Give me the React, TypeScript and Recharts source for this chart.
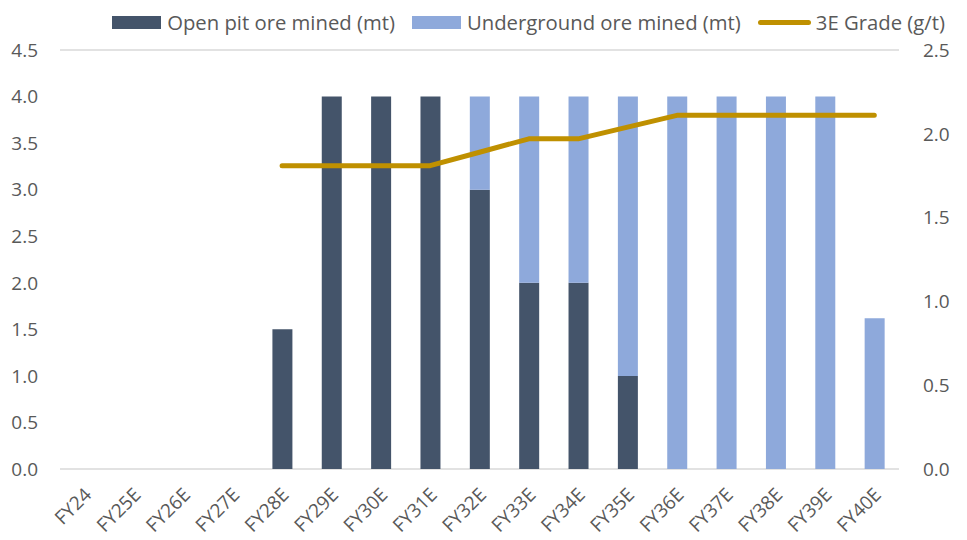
import React from "react"
import {
    ComposedChart,
    Bar,
    Line,
    XAxis,
    YAxis,
    CartesianGrid,
    Legend,
} from "recharts"

const years = [
    "FY24", "FY25E", "FY26E", "FY27E", "FY28E", "FY29E", "FY30E", "FY31E", "FY32E",
    "FY33E", "FY34E", "FY35E", "FY36E", "FY37E", "FY38E", "FY39E", "FY40E",
]
const openPit = [0, 0, 0, 0, 1.5, 4, 4, 4, 3, 2, 2, 1, 0, 0, 0, 0, 0]
const underground = [0, 0, 0, 0, 0, 0, 0, 0, 1, 2, 2, 3, 4, 4, 4, 4, 1.62]
const grade: (number | null)[] = [
    null, null, null, null, 1.81, 1.81, 1.81, 1.81, 1.89,
    1.97, 1.97, 2.04, 2.11, 2.11, 2.11, 2.11, 2.11,
]
const leftTicks = [0, 0.5, 1, 1.5, 2, 2.5, 3, 3.5, 4, 4.5]
const rightTicks = [0, 0.5, 1, 1.5, 2, 2.5]

const DARK = "#44546A"
const LIGHT = "#8EA9DB"
const GOLD = "#BF9000"
const TEXT = "#595959"
const FONT = "'Open Sans', sans-serif"

const data = years.map((year, i) => ({
    year,
    openPit: openPit[i],
    underground: underground[i],
    grade: grade[i],
}))

function YearTick({ x, y, payload }: any) {
    const ax = x + 8
    const ay = y + 19
    return (
        <text
            x={ax}
            y={ay}
            transform={`rotate(-45 ${ax} ${ay})`}
            textAnchor="end"
            fill={TEXT}
            fontSize={19}
            fontFamily={FONT}
        >
            {payload.value}
        </text>
    )
}

function LegendRow() {
    const item = { display: "flex", alignItems: "center", marginRight: 17, whiteSpace: "nowrap" as const }
    return (
        <div
            style={{
                height: 42,
                display: "flex",
                justifyContent: "flex-end",
                alignItems: "flex-start",
                boxSizing: "border-box",
                fontFamily: FONT,
                fontSize: 20.3,
                lineHeight: "28px",
                color: TEXT,
                paddingRight: 22,
            }}
        >
            <div style={item}>
                <span style={{ width: 49, height: 13, background: DARK, marginRight: 6 }} />
                Open pit ore mined (mt)
            </div>
            <div style={item}>
                <span style={{ width: 49, height: 13, background: LIGHT, marginRight: 6 }} />
                Underground ore mined (mt)
            </div>
            <div style={{ ...item, marginRight: 0 }}>
                <span style={{ width: 53, height: 5, borderRadius: 3, background: GOLD, marginRight: 5 }} />
                3E Grade (g/t)
            </div>
        </div>
    )
}

export default function App() {
    return (
        <div style={{ width: 967, height: 540, background: "#fff" }}>
            <style>{"body{margin:0}"}</style>
            <ComposedChart
                width={967}
                height={540}
                data={data}
                margin={{ top: 8, right: 0, left: 0, bottom: 0 }}
            >
                <Legend verticalAlign="top" content={() => <LegendRow />} />
                <CartesianGrid vertical={false} stroke="#D9D9D9" strokeWidth={1.3} />
                <XAxis
                    dataKey="year"
                    axisLine={false}
                    tickLine={false}
                    interval={0}
                    height={71}
                    tick={<YearTick />}
                />
                <YAxis
                    yAxisId="left"
                    domain={[0, 4.5]}
                    ticks={leftTicks}
                    tickFormatter={(v) => v.toFixed(1)}
                    axisLine={false}
                    tickLine={false}
                    width={60}
                    tick={{ fill: TEXT, fontSize: 19, fontFamily: FONT, dx: -14 }}
                />
                <YAxis
                    yAxisId="right"
                    orientation="right"
                    domain={[0, 2.5]}
                    ticks={rightTicks}
                    tickFormatter={(v) => v.toFixed(1)}
                    axisLine={false}
                    tickLine={false}
                    width={68}
                    tick={{ fill: TEXT, fontSize: 19, fontFamily: FONT, dx: 16 }}
                />
                <Bar
                    yAxisId="left"
                    dataKey="openPit"
                    stackId="ore"
                    fill={DARK}
                    barSize={20}
                    isAnimationActive={false}
                />
                <Bar
                    yAxisId="left"
                    dataKey="underground"
                    stackId="ore"
                    fill={LIGHT}
                    barSize={20}
                    isAnimationActive={false}
                />
                <Line
                    yAxisId="right"
                    dataKey="grade"
                    stroke={GOLD}
                    strokeWidth={5}
                    strokeLinecap="round"
                    strokeLinejoin="round"
                    dot={false}
                    activeDot={false}
                    type="linear"
                    isAnimationActive={false}
                />
            </ComposedChart>
        </div>
    )
}
